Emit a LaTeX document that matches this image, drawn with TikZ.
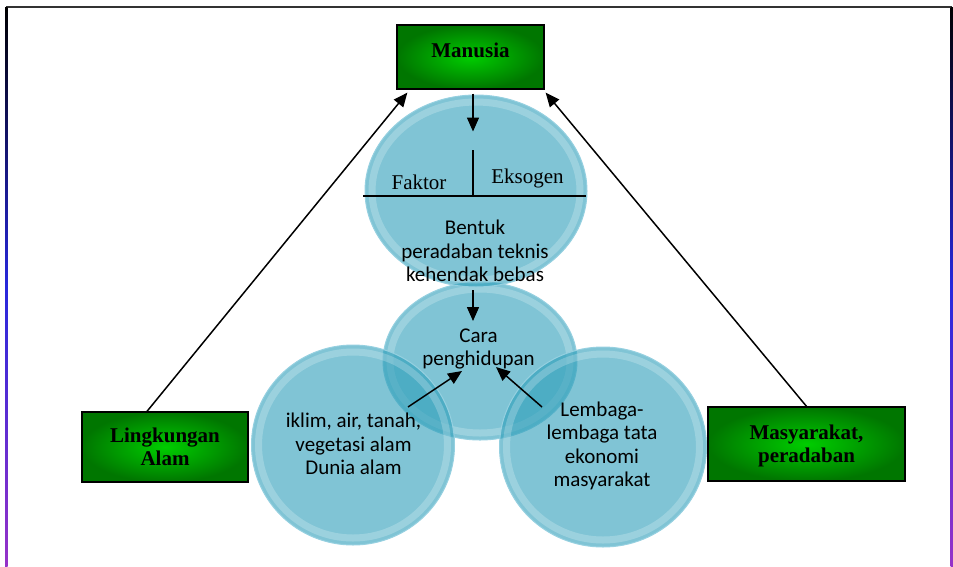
\documentclass[tikz,border=0pt]{standalone}
\usepackage{fontspec}
\setmainfont{Liberation Serif}
\newfontfamily\calib{Carlito}
\usetikzlibrary{arrows.meta,shapes.geometric,calc}

\definecolor{bubblefill}{RGB}{43,157,185}
\definecolor{bubblerim}{RGB}{150,208,224}
\definecolor{gdark}{RGB}{0,118,0}
\definecolor{glight}{RGB}{0,205,0}
\definecolor{frameblue}{RGB}{40,40,220}
\definecolor{framepurple}{RGB}{150,50,200}

\tikzset{
  bubble/.style={ellipse, draw=bubblerim, line width=1pt, fill=bubblefill,
    fill opacity=0.6, inner sep=0pt},
  greenbox/.style={rectangle, draw=black, line width=1.3pt,
    inner color=glight, outer color=gdark, inner sep=0pt},
  arr/.style={-{Triangle[length=14pt,width=12pt]}, line width=1.5pt},
  sanslbl/.style={font=\calib\fontsize{21}{23.5}\selectfont, align=center, inner sep=0pt},
  seriflbl/.style={font=\fontsize{21}{23}\selectfont, inner sep=0pt},
  boxlbl/.style={font=\bfseries\fontsize{21}{23}\selectfont, align=center, inner sep=0pt},
}

% a translucent glass disc with a soft inner highlight ring
\newcommand\glassdisc[4]{%
  \node[bubble, minimum width=#3pt, minimum height=#4pt] (#1) at #2 {};
  \draw[white, opacity=0.22, line width=7pt]
    (#1.center) ellipse [x radius=#3pt/2-7pt, y radius=#4pt/2-7pt];
}

\begin{document}
\begin{tikzpicture}[x=1pt,y=-1pt]
\useasboundingbox (0,0) rectangle (953,566);

% page frame
\draw[line width=1.3pt, black!80] (6,7) -- (952,7);
\shade[top color=black, bottom color=framepurple, middle color=frameblue]
  (5,7) rectangle (7.5,566);
\shade[top color=black, bottom color=framepurple, middle color=frameblue]
  (950.5,7) rectangle (953,566);

% discs
\glassdisc{mid}{(480,361)}{194}{158}
\glassdisc{top}{(476,191)}{222}{192}
\glassdisc{left}{(353,445)}{203}{200}
\glassdisc{right}{(603,447)}{207}{200}

% green boxes
\node[greenbox, minimum width=147pt, minimum height=64pt] (man) at (470.5,57) {};
\node[greenbox, minimum width=166pt, minimum height=70pt] (ling) at (165,447) {};
\node[greenbox, minimum width=197pt, minimum height=74pt] (mas) at (806.5,444) {};

\node[boxlbl, anchor=base] (manT) at (470.5,57) {Manusia};
\node[boxlbl] (lingT) at (165,447) {Lingkungan\\Alam};
\node[boxlbl] (masT) at (806.5,445.6) {Masyarakat,\\peradaban};

% divider inside the upper disc
\coordinate (divL) at (363,196);
\coordinate (divR) at (586,196);
\coordinate (divT) at (473,150);
\coordinate (divB) at (473,196);
\draw[line width=1.5pt] (divL) -- (divR);
\draw[line width=1.5pt] (divT) -- (divB);

\node[seriflbl, anchor=base] (faktor) at (419,189) {Faktor};
\node[seriflbl, anchor=base] (eksogen) at (527.5,183) {Eksogen};

% disc texts
\node[sanslbl] (bentuk) at (475,251) {Bentuk\\peradaban teknis\\kehendak bebas};
\node[sanslbl] (cara) at (478.5,349) {Cara\\penghidupan};
\node[sanslbl] (iklim) at (353.5,444) {iklim, air, tanah,\\vegetasi alam\\Dunia alam};
\node[sanslbl] (lembaga) at (602,446) {Lembaga-\\lembaga tata\\ekonomi\\masyarakat};

% connectors
\draw[arr] ([xshift=-18pt]ling.north) -- ([xshift=11pt,yshift=-3pt]man.south west);
\draw[arr] (mas.north) -- ([xshift=1pt,yshift=-3pt]man.south east);
\draw[arr] ([xshift=2.5pt,yshift=-4pt]man.south) -- ([xshift=-3pt,yshift=-37pt]top.north);

\coordinate (bentukOut) at (473,290);
\coordinate (caraIn) at (473,321);
\draw[arr] (bentukOut) -- (caraIn);

\coordinate (iklimOut) at (408,407);
\coordinate (caraL) at (462,371);
\draw[arr] (iklimOut) -- (caraL);

\coordinate (lembagaOut) at (542,407);
\coordinate (caraR) at (496,367);
\draw[arr] (lembagaOut) -- (caraR);
\end{tikzpicture}
\end{document}
